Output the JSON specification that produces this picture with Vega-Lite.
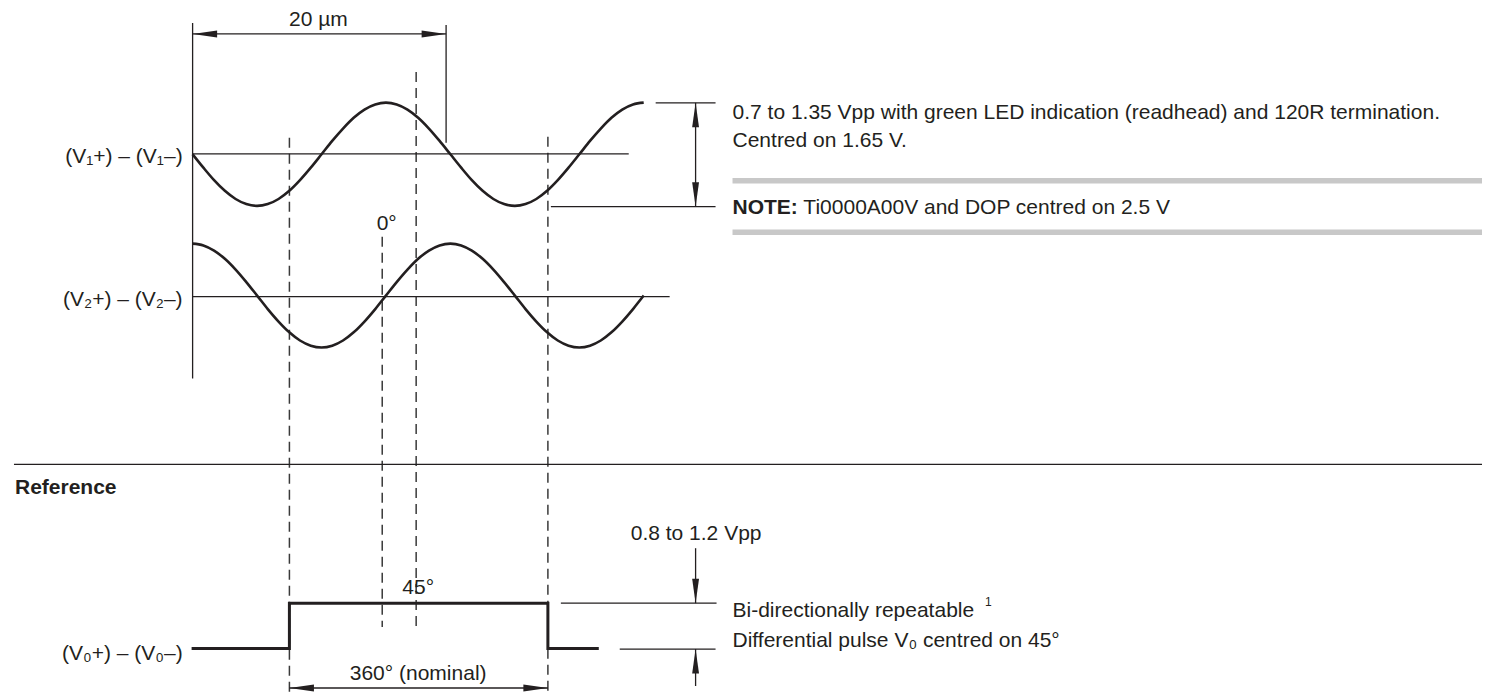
{
  "$schema": "https://vega.github.io/schema/vega-lite/v6.json",
  "width": 1485,
  "height": 695,
  "padding": 0,
  "autosize": {"type": "fit", "contains": "padding"},
  "background": "white",
  "config": {"view": {"stroke": null}, "text": {"font": "Liberation Sans", "color": "#231f20"}},
  "datasets": {
    "lines": [
      {"x": 193, "y": 23, "x2": 193, "y2": 379},
      {"x": 193, "y": 34, "x2": 447, "y2": 34},
      {"x": 447, "y": 25, "x2": 447, "y2": 143},
      {"x": 193, "y": 154, "x2": 630, "y2": 154},
      {"x": 193, "y": 297, "x2": 671, "y2": 297},
      {"x": 657, "y": 103, "x2": 717, "y2": 103},
      {"x": 552, "y": 207, "x2": 717, "y2": 207},
      {"x": 697, "y": 103, "x2": 697, "y2": 207},
      {"x": 14, "y": 465, "x2": 1485, "y2": 465},
      {"x": 562, "y": 604, "x2": 718, "y2": 604},
      {"x": 621, "y": 650, "x2": 717, "y2": 650},
      {"x": 697, "y": 549, "x2": 697, "y2": 604},
      {"x": 697, "y": 650, "x2": 697, "y2": 687},
      {"x": 290, "y": 689, "x2": 549, "y2": 689}
    ],
    "bars": [
      {"x": 734, "y": 181, "x2": 1485, "y2": 181},
      {"x": 734, "y": 232.5, "x2": 1485, "y2": 232.5}
    ],
    "dashes": [
      {"x": 290, "y": 138, "x2": 290, "y2": 695},
      {"x": 549, "y": 137, "x2": 549, "y2": 695},
      {"x": 383, "y": 237, "x2": 383, "y2": 628},
      {"x": 417, "y": 72, "x2": 417, "y2": 628}
    ],
    "waves": [
      {"s": "V1", "x": 193.0, "y": 154.5}, {"s": "V1", "x": 203.8, "y": 167.9}, {"s": "V1", "x": 214.5, "y": 180.4},
      {"s": "V1", "x": 225.3, "y": 191.1}, {"s": "V1", "x": 236.1, "y": 199.3}, {"s": "V1", "x": 246.8, "y": 204.4},
      {"s": "V1", "x": 257.6, "y": 206.2}, {"s": "V1", "x": 268.3, "y": 204.4}, {"s": "V1", "x": 279.1, "y": 199.3},
      {"s": "V1", "x": 289.9, "y": 191.1}, {"s": "V1", "x": 300.6, "y": 180.4}, {"s": "V1", "x": 311.4, "y": 167.9},
      {"s": "V1", "x": 322.2, "y": 154.5}, {"s": "V1", "x": 332.9, "y": 141.1}, {"s": "V1", "x": 343.7, "y": 128.7},
      {"s": "V1", "x": 354.4, "y": 117.9}, {"s": "V1", "x": 365.2, "y": 109.7}, {"s": "V1", "x": 376.0, "y": 104.6},
      {"s": "V1", "x": 386.7, "y": 102.8}, {"s": "V1", "x": 397.5, "y": 104.6}, {"s": "V1", "x": 408.3, "y": 109.7},
      {"s": "V1", "x": 419.0, "y": 117.9}, {"s": "V1", "x": 429.8, "y": 128.7}, {"s": "V1", "x": 440.5, "y": 141.1},
      {"s": "V1", "x": 451.3, "y": 154.5}, {"s": "V1", "x": 462.1, "y": 167.9}, {"s": "V1", "x": 472.8, "y": 180.4},
      {"s": "V1", "x": 483.6, "y": 191.1}, {"s": "V1", "x": 494.4, "y": 199.3}, {"s": "V1", "x": 505.1, "y": 204.4},
      {"s": "V1", "x": 515.9, "y": 206.2}, {"s": "V1", "x": 526.6, "y": 204.4}, {"s": "V1", "x": 537.4, "y": 199.3},
      {"s": "V1", "x": 548.2, "y": 191.1}, {"s": "V1", "x": 558.9, "y": 180.4}, {"s": "V1", "x": 569.7, "y": 167.9},
      {"s": "V1", "x": 580.5, "y": 154.5}, {"s": "V1", "x": 591.2, "y": 141.1}, {"s": "V1", "x": 602.0, "y": 128.7},
      {"s": "V1", "x": 612.7, "y": 117.9}, {"s": "V1", "x": 623.5, "y": 109.7}, {"s": "V1", "x": 634.3, "y": 104.6},
      {"s": "V1", "x": 645.0, "y": 102.8},
      {"s": "V2", "x": 193.0, "y": 244.0}, {"s": "V2", "x": 203.8, "y": 245.8}, {"s": "V2", "x": 214.5, "y": 251.0},
      {"s": "V2", "x": 225.3, "y": 259.2}, {"s": "V2", "x": 236.1, "y": 270.0}, {"s": "V2", "x": 246.8, "y": 282.5},
      {"s": "V2", "x": 257.6, "y": 296.0}, {"s": "V2", "x": 268.3, "y": 309.5}, {"s": "V2", "x": 279.1, "y": 322.0},
      {"s": "V2", "x": 289.9, "y": 332.8}, {"s": "V2", "x": 300.6, "y": 341.0}, {"s": "V2", "x": 311.4, "y": 346.2},
      {"s": "V2", "x": 322.2, "y": 348.0}, {"s": "V2", "x": 332.9, "y": 346.2}, {"s": "V2", "x": 343.7, "y": 341.0},
      {"s": "V2", "x": 354.4, "y": 332.8}, {"s": "V2", "x": 365.2, "y": 322.0}, {"s": "V2", "x": 376.0, "y": 309.5},
      {"s": "V2", "x": 386.7, "y": 296.0}, {"s": "V2", "x": 397.5, "y": 282.5}, {"s": "V2", "x": 408.3, "y": 270.0},
      {"s": "V2", "x": 419.0, "y": 259.2}, {"s": "V2", "x": 429.8, "y": 251.0}, {"s": "V2", "x": 440.5, "y": 245.8},
      {"s": "V2", "x": 451.3, "y": 244.0}, {"s": "V2", "x": 462.1, "y": 245.8}, {"s": "V2", "x": 472.8, "y": 251.0},
      {"s": "V2", "x": 483.6, "y": 259.2}, {"s": "V2", "x": 494.4, "y": 270.0}, {"s": "V2", "x": 505.1, "y": 282.5},
      {"s": "V2", "x": 515.9, "y": 296.0}, {"s": "V2", "x": 526.6, "y": 309.5}, {"s": "V2", "x": 537.4, "y": 322.0},
      {"s": "V2", "x": 548.2, "y": 332.8}, {"s": "V2", "x": 558.9, "y": 341.0}, {"s": "V2", "x": 569.7, "y": 346.2},
      {"s": "V2", "x": 580.5, "y": 348.0}, {"s": "V2", "x": 591.2, "y": 346.2}, {"s": "V2", "x": 602.0, "y": 341.0},
      {"s": "V2", "x": 612.7, "y": 332.8}, {"s": "V2", "x": 623.5, "y": 322.0}, {"s": "V2", "x": 634.3, "y": 309.5},
      {"s": "V2", "x": 645.0, "y": 296.0}
    ],
    "pulse": [
      {"i": 0, "x": 192, "y": 649.5},
      {"i": 1, "x": 290, "y": 649.5},
      {"i": 2, "x": 290, "y": 604},
      {"i": 3, "x": 549, "y": 604},
      {"i": 4, "x": 549, "y": 649.5},
      {"i": 5, "x": 600, "y": 649.5}
    ],
    "arrows": [
      {"x": 193, "y": 34, "dir": "left"},
      {"x": 447, "y": 34, "dir": "right"},
      {"x": 697, "y": 103, "dir": "up"},
      {"x": 697, "y": 207, "dir": "down"},
      {"x": 697, "y": 604, "dir": "down"},
      {"x": 697, "y": 650, "dir": "up"},
      {"x": 290, "y": 689, "dir": "left"},
      {"x": 549, "y": 689, "dir": "right"}
    ],
    "textRight": [
      {"x": 183, "y": 163, "t": "(V₁+) – (V₁–)"},
      {"x": 183, "y": 306.5, "t": "(V₂+) – (V₂–)"},
      {"x": 183, "y": 660.5, "t": "(V₀+) – (V₀–)"}
    ],
    "textCenter": [
      {"x": 319, "y": 26, "t": "20 µm"},
      {"x": 387.5, "y": 230, "t": "0°"},
      {"x": 419, "y": 595, "t": "45°"},
      {"x": 419, "y": 681, "t": "360° (nominal)"}
    ],
    "textLeft": [
      {"x": 632, "y": 541, "t": "0.8 to 1.2 Vpp"},
      {"x": 734, "y": 119, "t": "0.7 to 1.35 Vpp with green LED indication (readhead) and 120R termination."},
      {"x": 734, "y": 147, "t": "Centred on 1.65 V."},
      {"x": 805, "y": 214, "t": "Ti0000A00V and DOP centred on 2.5 V"},
      {"x": 734, "y": 617.5, "t": "Bi-directionally repeatable"},
      {"x": 734, "y": 648, "t": "Differential pulse V₀ centred on 45°"}
    ],
    "textBold": [
      {"x": 15, "y": 495, "t": "Reference"},
      {"x": 734, "y": 214, "t": "NOTE:"}
    ],
    "textSup": [
      {"x": 987, "y": 607, "t": "1"}
    ]
  },
  "encoding": {
    "x": {"field": "x", "type": "quantitative", "scale": {"domain": [0, 1485], "nice": false, "zero": false}, "axis": null},
    "y": {"field": "y", "type": "quantitative", "scale": {"domain": [0, 695], "nice": false, "zero": false, "reverse": true}, "axis": null}
  },
  "layer": [
    {
      "data": {"name": "bars"},
      "mark": {"type": "rule", "stroke": "#c8c8c8", "strokeWidth": 5.5},
      "encoding": {"x2": {"field": "x2"}, "y2": {"field": "y2"}}
    },
    {
      "data": {"name": "dashes"},
      "mark": {"type": "rule", "stroke": "#3a3a3a", "strokeWidth": 1.5, "strokeDash": [10, 6]},
      "encoding": {"x2": {"field": "x2"}, "y2": {"field": "y2"}}
    },
    {
      "data": {"name": "lines"},
      "mark": {"type": "rule", "stroke": "#231f20", "strokeWidth": 1.3},
      "encoding": {"x2": {"field": "x2"}, "y2": {"field": "y2"}}
    },
    {
      "data": {"name": "waves"},
      "mark": {"type": "line", "stroke": "#231f20", "strokeWidth": 2.6, "interpolate": "monotone", "strokeCap": "butt"},
      "encoding": {"detail": {"field": "s", "type": "nominal"}}
    },
    {
      "data": {"name": "pulse"},
      "mark": {"type": "line", "stroke": "#231f20", "strokeWidth": 3, "strokeJoin": "miter", "strokeCap": "butt"},
      "encoding": {"order": {"field": "i", "type": "quantitative"}}
    },
    {
      "data": {"name": "arrows"},
      "mark": {"type": "point", "filled": true, "color": "#231f20", "size": 600, "opacity": 1, "strokeWidth": 0},
      "encoding": {
        "shape": {
          "field": "dir", "type": "nominal", "legend": null,
          "scale": {
            "domain": ["left", "right", "up", "down"],
            "range": ["M0,0L2,-0.28L2,0.28Z", "M0,0L-2,-0.28L-2,0.28Z", "M0,0L-0.28,2L0.28,2Z", "M0,0L-0.28,-2L0.28,-2Z"]
          }
        }
      }
    },
    {
      "data": {"name": "textRight"},
      "mark": {"type": "text", "align": "right", "baseline": "alphabetic", "fontSize": 21},
      "encoding": {"text": {"field": "t"}}
    },
    {
      "data": {"name": "textCenter"},
      "mark": {"type": "text", "align": "center", "baseline": "alphabetic", "fontSize": 21},
      "encoding": {"text": {"field": "t"}}
    },
    {
      "data": {"name": "textLeft"},
      "mark": {"type": "text", "align": "left", "baseline": "alphabetic", "fontSize": 21},
      "encoding": {"text": {"field": "t"}}
    },
    {
      "data": {"name": "textBold"},
      "mark": {"type": "text", "align": "left", "baseline": "alphabetic", "fontSize": 21, "fontWeight": "bold"},
      "encoding": {"text": {"field": "t"}}
    },
    {
      "data": {"name": "textSup"},
      "mark": {"type": "text", "align": "left", "baseline": "alphabetic", "fontSize": 12},
      "encoding": {"text": {"field": "t"}}
    }
  ]
}
